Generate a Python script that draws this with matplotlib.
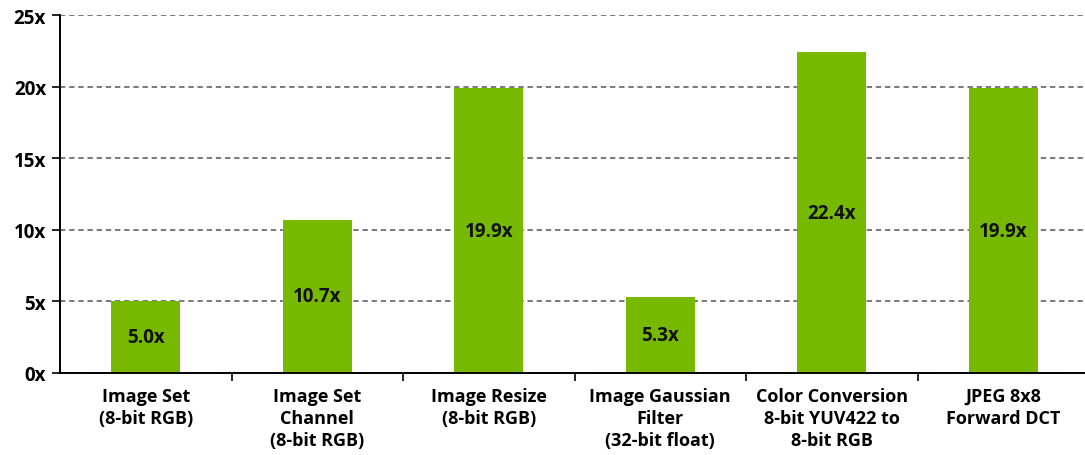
import matplotlib
matplotlib.use("Agg")
import matplotlib.pyplot as plt
from matplotlib.ticker import FixedLocator

categories = [
    "Image Set\n(8-bit RGB)",
    "Image Set\nChannel\n(8-bit RGB)",
    "Image Resize\n(8-bit RGB)",
    "Image Gaussian\nFilter\n(32-bit float)",
    "Color Conversion\n8-bit YUV422 to\n8-bit RGB",
    "JPEG 8x8\nForward DCT",
]
speedups = [5.0, 10.7, 19.9, 5.3, 22.4, 19.9]
y_ticks = [0, 5, 10, 15, 20, 25]
y_tick_labels = ["0x", "5x", "10x", "15x", "20x", "25x"]

plt.rcParams["font.family"] = ["Open Sans", "DejaVu Sans"]

W, H = 1085, 456
fig = plt.figure(figsize=(W / 100, H / 100), dpi=100)
ax = fig.add_axes([60 / W, (H - 374) / H, 1029 / W, 358 / H])

x = range(len(categories))
bars = ax.bar(x, speedups, width=0.4, color="#76B900", zorder=3)

for xi, v in zip(x, speedups):
    ax.text(xi, v / 2, f"{v:.1f}x", ha="center", va="center",
            fontsize=13.5, fontweight="bold", color="#111111", zorder=4)

ax.set_xlim(-0.5, len(categories) - 0.5)
ax.set_ylim(0, 25)
ax.set_yticks(y_ticks)
ax.set_yticklabels(y_tick_labels, fontsize=13.5, fontweight="bold")
ax.set_xticks(list(x))
ax.set_xticklabels(categories, fontsize=13, fontweight="bold",
                   linespacing=1.3)
ax.tick_params(axis="x", which="major", length=0, pad=10)
ax.xaxis.set_minor_locator(FixedLocator([i + 0.5 for i in range(len(categories))]))
ax.tick_params(axis="x", which="minor", length=6, width=1.2, color="black")
ax.tick_params(axis="y", length=6, width=1.2, pad=4)

ax.yaxis.grid(True, linestyle=(0, (3.5, 2.5)), color="#555555", linewidth=1.1, zorder=0)
ax.set_axisbelow(True)
for s in ("top", "right"):
    ax.spines[s].set_visible(False)
for s in ("left", "bottom"):
    ax.spines[s].set_linewidth(1.4)
    ax.spines[s].set_zorder(5)

fig.savefig("out.png", dpi=100)
